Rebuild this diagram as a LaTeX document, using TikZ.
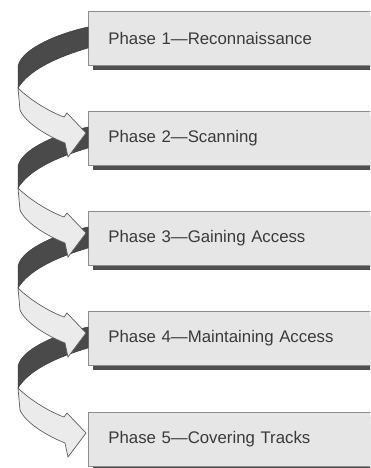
\documentclass[tikz,border=0pt]{standalone}
\usepackage{fontspec}
\setmainfont{Liberation Sans}
\usetikzlibrary{shadows}
\definecolor{boxfill}{HTML}{E6E6E6}
\definecolor{boxline}{HTML}{8C8C8C}
\definecolor{shadowgray}{HTML}{4F4F4F}
\definecolor{textgray}{HTML}{3A3A3A}
\definecolor{ribbondark}{HTML}{4A4A4A}
\definecolor{ribbonlight}{HTML}{EBEBEB}
\definecolor{ribbonline}{HTML}{5E5E5E}
\tikzset{
  phasebox/.style={draw=boxline, line width=0.8pt, fill=boxfill, anchor=north west,
    minimum width=292pt, minimum height=54pt, text width=252pt, inner xsep=20pt,
    align=left, font=\fontsize{16.8}{18}\selectfont, text=textgray,
    drop shadow={shadow xshift=5pt, shadow yshift=-5pt, fill=shadowgray, opacity=1}},
  backface/.style={fill=ribbondark, draw=ribbondark!80!black, line width=0.5pt, line join=round},
  frontface/.style={fill=ribbonlight, draw=ribbonline, line width=0.7pt, line join=miter}
}
% A twisted ribbon runs from box #1 down to the box below it.
% All points are measured from the upper box's top-left corner.
% Dark back side of the ribbon, leaving the upper box:
\newcommand{\ribbonback}[1]{%
  \begin{scope}[shift={(#1.north west)}]
    \fill[backface] (0,16) .. controls (-28,22) and (-66,37) .. (-70,55)
      -- (-70,77) .. controls (-58,58) and (-30,46) .. (0,37) -- cycle;
  \end{scope}}
% Light front side, ending in the arrowhead at the lower box:
\newcommand{\ribbonfront}[1]{%
  \begin{scope}[shift={(#1.north west)}]
    \filldraw[frontface] (-70,77) .. controls (-58,89) and (-38,101) .. (-24,106)
      -- (-21,102) -- (-2,122) -- (-20,146) -- (-23,132)
      .. controls (-43,124) and (-63,111) .. (-68,99) -- cycle;
  \end{scope}}
\begin{document}
\begin{tikzpicture}[x=1pt, y=-1pt]
  \useasboundingbox (0,0) rectangle (370,468);
  \clip (0,0) rectangle (370,468);
  \node[phasebox] (p1) at (88,11)  {Phase 1---Reconnaissance};
  \node[phasebox] (p2) at (88,111) {Phase 2---Scanning};
  \node[phasebox] (p3) at (88,211) {Phase 3---Gaining Access};
  \node[phasebox] (p4) at (88,311) {Phase 4---Maintaining Access};
  \node[phasebox] (p5) at (88,412) {Phase 5---Covering Tracks};
  % back sides first, so each arrowhead lies over the next ribbon
  \ribbonback{p1}
  \ribbonback{p2}
  \ribbonback{p3}
  \ribbonback{p4}
  \ribbonfront{p1}
  \ribbonfront{p2}
  \ribbonfront{p3}
  \ribbonfront{p4}
\end{tikzpicture}
\end{document}
